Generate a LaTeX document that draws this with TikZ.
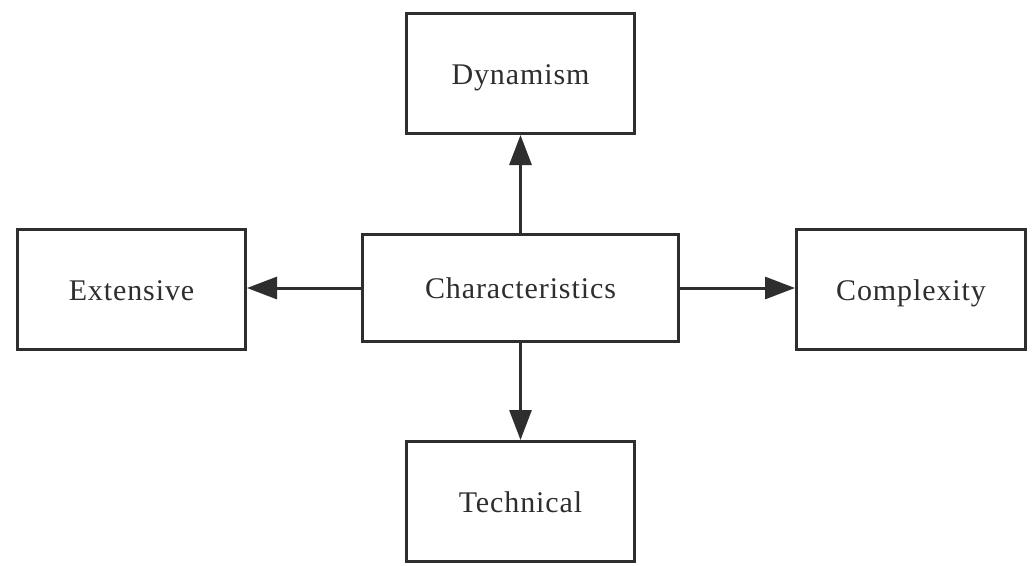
\documentclass[tikz,border=0pt]{standalone}
\usepackage{fontspec}
\setmainfont{Liberation Serif}
\usetikzlibrary{arrows.meta}
\definecolor{ink}{HTML}{2E2E2E}
\begin{document}
\begin{tikzpicture}[x=1pt,y=-1pt,
  box/.style={draw=ink, line width=3pt, fill=white, text=ink, inner sep=0pt,
    text height=21pt, text depth=0pt,
    font=\fontsize{30}{36}\selectfont\addfontfeature{LetterSpace=3}},
  link/.style={draw=ink, line width=3pt, -{Triangle[length=30pt,width=22pt]}}]
\useasboundingbox (0,0) rectangle (1032,565);
\fill[white] (0,0) rectangle (1032,565);
\node[box, minimum width=316pt, minimum height=107pt] (char) at (520.5,288) {Characteristics};
\node[box, minimum width=228pt, minimum height=120pt] (dyn) at (520.5,73.5) {Dynamism};
\node[box, minimum width=228pt, minimum height=120pt] (ext) at (131.5,289.5) {Extensive};
\node[box, minimum width=229pt, minimum height=120pt] (comp) at (911,289.5) {Complexity};
\node[box, minimum width=228pt, minimum height=120pt] (tech) at (520.5,501.5) {Technical};
\draw[link] (char.north) -- (dyn.south);
\draw[link] (char.south) -- (tech.north);
\draw[link] (char.west) -- (ext.east |- char.west);
\draw[link] (char.east) -- (comp.west |- char.east);
\end{tikzpicture}
\end{document}
